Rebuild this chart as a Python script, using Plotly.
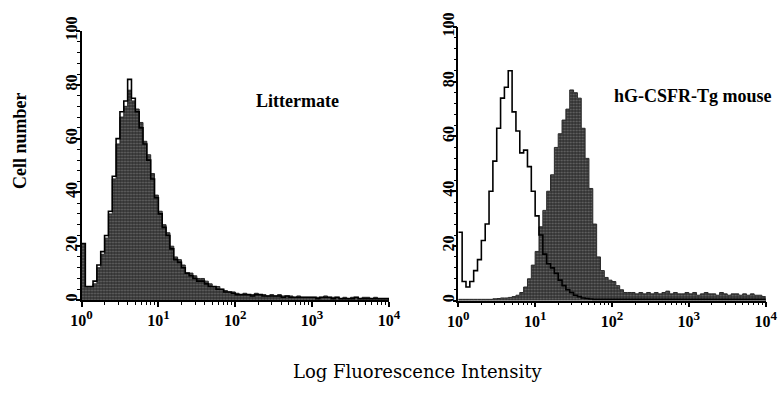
import plotly.graph_objects as go

# bin positions in decades (log10 of fluorescence), 0.05-decade channels
decade_pos = [round(i * 0.05, 2) for i in range(81)]

# Littermate panel
litter_fill = [21, 5, 5, 6, 12, 17, 23, 32, 45, 58, 68, 72, 78, 74, 71, 66, 59, 54, 47, 39,
               33, 28, 25, 20, 16, 15, 13, 10, 10, 9, 8, 8, 7, 6, 5, 5, 4, 3.5, 3, 3,
               2.5, 2, 2.5, 2, 2, 2.5, 2, 2, 1.5, 2, 1.5, 2, 1.5, 1.5, 1.5, 1, 1.5, 1, 1, 1,
               1, 1, 1, 1.5, 1, 1, 1, 0.5, 1, 0.5, 1, 1, 0.5, 1, 1, 0.5, 1, 0.5, 0.5, 0.5, 0]
litter_ctrl = [21, 5, 5, 7, 13, 18, 24, 33, 46, 60, 70, 74, 82, 75, 70, 64, 58, 52, 45, 38,
               32, 27, 24, 19, 15, 14, 12, 10, 9, 8, 7, 7, 6, 5, 5, 4, 4, 3, 3, 2.5,
               2, 2, 2, 2, 1.5, 2, 2, 1.5, 1.5, 1.5, 1.5, 1.5, 1, 1.5, 1, 1, 1, 1, 1, 1,
               1, 0.5, 1, 1, 1, 0.5, 1, 0.5, 0.5, 0.5, 0.5, 1, 0.5, 0.5, 0.5, 0.5, 0.5, 0.5, 0.5, 0.5, 0]

# hG-CSFR-Tg mouse panel
tg_fill = [0.5, 0.5, 0.5, 0.5, 0.5, 0.5, 0.5, 0.5, 0.5, 0.7, 0.8, 1, 1, 1.2, 1.5, 2, 3, 5, 8, 13,
           18, 27, 33, 40, 46, 56, 61, 66, 70, 77, 76, 74, 63, 52, 41, 28, 16, 11, 8.5, 7.5,
           7, 5.5, 4, 3, 3, 3, 2.5, 3, 2.5, 3, 2.5, 3, 2.5, 3, 3.5, 2.5, 3, 2.5, 2.5, 3,
           2.5, 3, 2, 2.5, 3, 2.5, 2.5, 2, 3, 2.5, 2, 2.5, 2.5, 2, 2.5, 2, 2.5, 2, 2, 1.5, 0]
tg_ctrl = [25, 7, 5, 7, 11, 15, 22, 28, 40, 51, 63, 74, 78, 84, 69, 62, 54, 55, 49, 40,
           31, 24, 17, 13.5, 12, 10, 7.5, 5.5, 4, 3, 2, 1.5, 1, 0.8, 0.6, 0.5, 0.5, 0.5, 0.5, 0.5,
           0.5, 0.5, 0.5, 0.5, 0.5, 0.5, 0.5, 0.5, 0.5, 0.5, 0.5, 0.5, 0.5, 0.5, 0.5, 0.5, 0.5, 0.5, 0.5, 0.5,
           0.5, 0.5, 0.5, 0.5, 0.5, 0.5, 0.5, 0.5, 0.5, 0.5, 0.5, 0.5, 0.5, 0.5, 0.5, 0.5, 0.5, 0.5, 0.5, 0.5, 0]

x_tickvals = [1, 10, 100, 1000, 10000]
x_exponents = ["0", "1", "2", "3", "4"]
y_tickvals = [0, 20, 40, 60, 80, 100]

xs = [10 ** p for p in decade_pos]
x_ticktext = ["10<sup><span style='font-size:13px'>%s</span></sup>" % e for e in x_exponents]
SERIF = "Liberation Serif"

fig = go.Figure()

def add_panel(fill_vals, ctrl_vals, xa, ya):
    fig.add_trace(go.Scatter(
        x=xs, y=fill_vals, mode="lines", line=dict(shape="hv", color="#2a2a2a", width=1),
        fill="tozeroy", fillcolor="#3a3a3a",
        fillpattern=dict(shape=".", fgcolor="#a0a0a0", bgcolor="#303030", size=3, solidity=0.35),
        xaxis=xa, yaxis=ya, showlegend=False, hoverinfo="skip"))
    fig.add_trace(go.Scatter(
        x=xs, y=ctrl_vals, mode="lines", line=dict(shape="hv", color="#000000", width=1.6),
        xaxis=xa, yaxis=ya, showlegend=False, hoverinfo="skip"))

add_panel(litter_fill, litter_ctrl, "x", "y")
add_panel(tg_fill, tg_ctrl, "x2", "y2")

W, H = 778, 399

def px(X):
    return X / W

def py(Y):
    return 1 - Y / H

def xaxis_cfg(d0, d1, anchor):
    return dict(type="log", range=[0, 4], domain=[px(d0), px(d1)], anchor=anchor, automargin=False,
                showline=True, linecolor="black", linewidth=1.5, showgrid=False, zeroline=False,
                tickmode="array", tickvals=x_tickvals, ticktext=x_ticktext,
                ticks="outside", ticklen=5, tickwidth=1.5, tickcolor="black",
                minor=dict(ticks="outside", ticklen=3, tickwidth=1, tickcolor="black", dtick="D1"),
                tickfont=dict(family=SERIF, size=16, color="black", weight="bold"))

def yaxis_cfg(p0, p100, anchor):
    return dict(range=[0, 100], domain=[py(p0), py(p100)], anchor=anchor, automargin=False,
                showline=True, linecolor="black", linewidth=1.5, showgrid=False, zeroline=False,
                tickmode="array", tickvals=y_tickvals, ticks="outside", ticklen=4, tickwidth=1.5,
                tickcolor="black", tickangle=-90, ticklabelstandoff=-8,
                minor=dict(ticks="outside", ticklen=3, tickwidth=1, tickcolor="black", dtick=4, tick0=0),
                tickfont=dict(family=SERIF, size=16, color="black", weight="bold"))

fig.update_layout(
    width=W, height=H, margin=dict(l=0, r=0, t=0, b=0, autoexpand=False),
    paper_bgcolor="white", plot_bgcolor="rgba(0,0,0,0)",
    xaxis=xaxis_cfg(81.5, 389, "y"),
    yaxis=yaxis_cfg(300, 31, "x"),
    xaxis2=xaxis_cfg(458.3, 765.7, "y2"),
    yaxis2=yaxis_cfg(300.7, 27, "x2"),
)

fig.add_annotation(text="Cell number", x=px(20), y=py(141), xref="paper", yref="paper",
                   textangle=-90, showarrow=False, xanchor="center", yanchor="middle",
                   font=dict(family=SERIF, size=18, color="black", weight="bold"))
fig.add_annotation(text="Littermate", x=px(297), y=py(101), xref="paper", yref="paper",
                   showarrow=False, xanchor="center", yanchor="middle",
                   font=dict(family=SERIF, size=18, color="black", weight="bold"))
fig.add_annotation(text="hG-CSFR-Tg mouse", x=px(693), y=py(96), xref="paper", yref="paper",
                   showarrow=False, xanchor="center", yanchor="middle",
                   font=dict(family=SERIF, size=18, color="black", weight="bold"))
fig.add_annotation(text="Log Fluorescence Intensity", x=px(417), y=py(371), xref="paper", yref="paper",
                   showarrow=False, xanchor="center", yanchor="middle",
                   font=dict(family="DejaVu Serif", size=18, color="black"))

fig.write_html("out.html", config={"displayModeBar": False},
               post_script="document.body.style.margin='0';document.body.style.overflow='hidden';")
